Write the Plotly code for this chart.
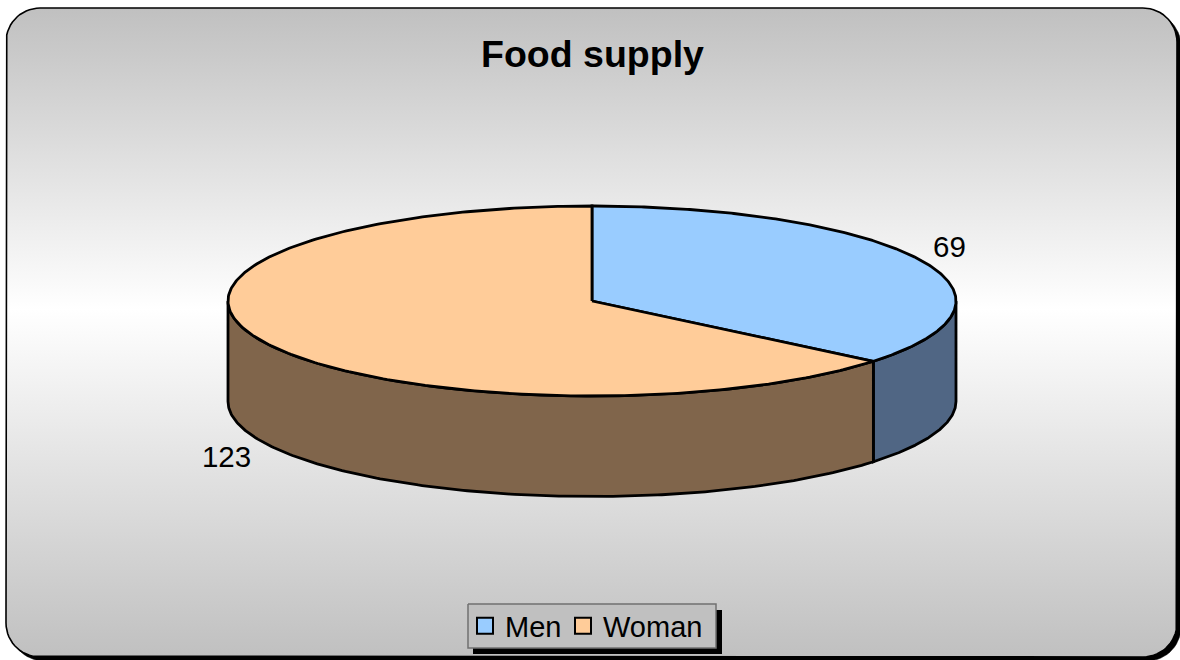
import numpy as np
import plotly.graph_objects as go

categories = ["Men", "Woman"]
values = [69, 123]
top_colors = ["#99CCFF", "#FFCC99"]
side_colors = ["#506684", "#80654B"]
title_text = "Food supply"

W, H = 1180, 660
CX, CY, RX, RY, DEPTH = 592, 301, 364, 95, 100.5
LINE = 2.8


def ell(a):
    """clockwise angle from 12 o'clock (radians) -> pixel position"""
    return CX + RX * np.sin(a), CY - RY * np.cos(a)


def round_rect(x0, y0, x1, y1, r, n=16):
    xs, ys = [], []
    for cx, cy, a0 in [(x1 - r, y0 + r, -np.pi / 2), (x1 - r, y1 - r, 0),
                       (x0 + r, y1 - r, np.pi / 2), (x0 + r, y0 + r, np.pi)]:
        t = np.linspace(a0, a0 + np.pi / 2, n)
        xs += list(cx + r * np.cos(t))
        ys += list(cy + r * np.sin(t))
    return xs + xs[:1], ys + ys[:1]


fig = go.Figure()


def poly(x, y, fill=None, line="#000000", width=LINE, **kw):
    fig.add_trace(go.Scatter(x=list(x), y=list(y), mode="lines", fill="toself" if fill else None,
                             fillcolor=fill, line=dict(color=line, width=width),
                             showlegend=False, hoverinfo="skip", **kw))


# chart frame: shadow then gradient panel
sx, sy = round_rect(10, 12, 1181, 661, 34)
poly(sx, sy, "#000000", width=0.5)
fx, fy = round_rect(6, 8, 1177, 657, 34)
fig.add_trace(go.Scatter(
    x=fx, y=fy, mode="lines", fill="toself", showlegend=False, hoverinfo="skip",
    line=dict(color="#000000", width=1.6),
    fillgradient=dict(type="vertical", start=8, stop=657,
                      colorscale=[[0, "#C0C0C0"], [0.465, "#FFFFFF"], [1, "#C0C0C0"]]),
))

# slices
total = sum(values)
bounds = np.concatenate([[0], np.cumsum(values) / total * 2 * np.pi])

# sides (only the front half, pi/2..3pi/2, is visible)
for i in range(len(values)):
    a0, a1 = max(bounds[i], np.pi / 2), min(bounds[i + 1], 3 * np.pi / 2)
    t = np.linspace(a0, a1, 200)
    x, y = ell(t)
    poly(np.r_[x, x[::-1], x[0]], np.r_[y, y[::-1] + DEPTH, y[0]], side_colors[i])

# tops
for i in range(len(values)):
    t = np.linspace(bounds[i], bounds[i + 1], 300)
    x, y = ell(t)
    poly(np.r_[CX, x, CX], np.r_[CY, y, CY], top_colors[i])

# data labels
label_pos = [(949.5, 250), (226.5, 460)]
fig.add_trace(go.Scatter(
    x=[p[0] for p in label_pos], y=[p[1] for p in label_pos], mode="text",
    text=[str(v) for v in values], textposition="middle center",
    textfont=dict(family="Liberation Sans", size=29.5, color="#000000"),
    showlegend=False, hoverinfo="skip",
))

# legend box and shadow
lx0, ly0, lx1, ly1 = 468, 604, 716, 648
poly([lx0 + 5, lx1 + 6, lx1 + 6, lx0 + 5, lx0 + 5],
     [ly0 + 6, ly0 + 6, ly1 + 6, ly1 + 6, ly0 + 6], "#000000", width=0)
poly([lx0, lx1, lx1, lx0, lx0], [ly0, ly0, ly1, ly1, ly0], "#C0C0C0", line="#707070", width=1.5)

# legend entries: each in its own legend so they can sit as tightly as the reference
legend_refs = ["legend", "legend2"]
legend_x = [465, 563]
for name, c, ref in zip(categories, top_colors, legend_refs):
    fig.add_trace(go.Scatter(
        x=[None], y=[None], mode="markers", name=name, legend=ref,
        marker=dict(symbol="square", size=17, color=c, line=dict(color="#000000", width=2)),
    ))

legend_style = dict(orientation="h", yanchor="middle", xanchor="left", y=1 - 626 / H,
                    bgcolor="rgba(0,0,0,0)", borderwidth=0,
                    font=dict(family="Liberation Sans", size=29, color="#000000"),
                    itemclick=False, itemdoubleclick=False, itemwidth=30)

fig.update_layout(
    width=W, height=H,
    margin=dict(l=0, r=0, t=0, b=0),
    paper_bgcolor="#FFFFFF", plot_bgcolor="#FFFFFF",
    xaxis=dict(range=[0, W], visible=False, fixedrange=True),
    yaxis=dict(range=[H, 0], visible=False, fixedrange=True),
    title=dict(text="<b>%s</b>" % title_text, x=592.5 / W, y=1 - 54 / H, xanchor="center", yanchor="middle",
               font=dict(family="Liberation Sans", size=37.5, color="#000000")),
    legend=dict(x=legend_x[0] / W, **legend_style),
    legend2=dict(x=legend_x[1] / W, **legend_style),
    showlegend=True,
)
fig.write_html("out.html", config=dict(displayModeBar=False),
               post_script="document.body.style.margin='0';document.documentElement.style.overflow='hidden';")
